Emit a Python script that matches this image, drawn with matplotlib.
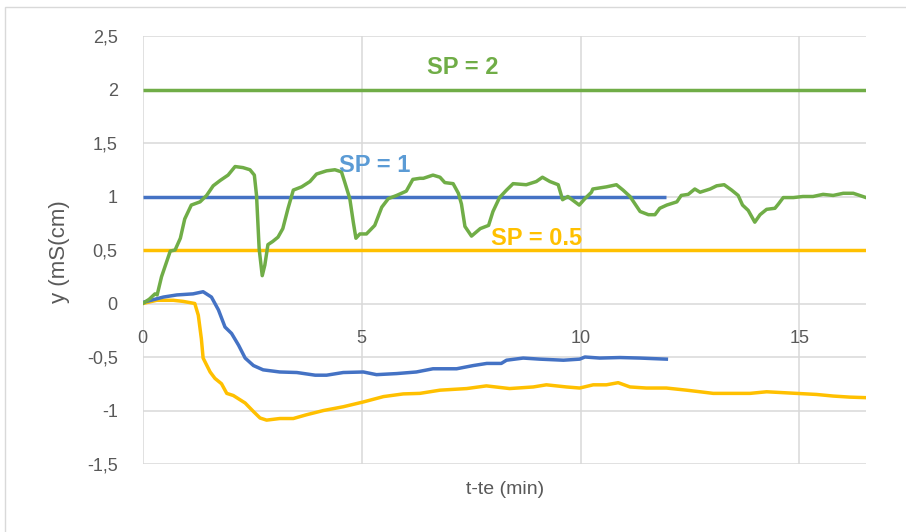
import matplotlib
matplotlib.use("Agg")
import matplotlib.pyplot as plt
from matplotlib.patches import Rectangle

# ---- data ----
green_x = [0.00, 0.15, 0.28, 0.33, 0.43, 0.63, 0.74, 0.86, 0.96, 1.11, 1.31, 1.46, 1.61, 1.77, 1.95,
           2.11, 2.29, 2.45, 2.55, 2.60, 2.66, 2.73, 2.79, 2.86, 2.97, 3.09, 3.20, 3.32, 3.44, 3.63,
           3.82, 3.97, 4.20, 4.39, 4.54, 4.61, 4.73, 4.81, 4.87, 4.96, 5.11, 5.30, 5.46, 5.61, 5.80,
           6.02, 6.17, 6.33, 6.41, 6.63, 6.79, 6.90, 7.09, 7.21, 7.28, 7.36, 7.51, 7.71, 7.90, 8.00,
           8.15, 8.31, 8.46, 8.76, 8.99, 9.13, 9.30, 9.49, 9.59, 9.71, 9.97, 10.10, 10.25, 10.28,
           10.59, 10.82, 10.97, 11.13, 11.36, 11.55, 11.70, 11.81, 11.97, 12.20, 12.30, 12.46, 12.61,
           12.73, 12.96, 13.11, 13.28, 13.45, 13.60, 13.70, 13.83, 13.98, 14.10, 14.25, 14.44, 14.52,
           14.63, 14.86, 15.08, 15.31, 15.54, 15.77, 16.00, 16.23, 16.52]
green_y = [0.00, 0.04, 0.09, 0.08, 0.25, 0.49, 0.50, 0.61, 0.79, 0.92, 0.95, 1.01, 1.10, 1.15, 1.20,
           1.28, 1.27, 1.25, 1.20, 1.01, 0.51, 0.26, 0.36, 0.55, 0.58, 0.62, 0.70, 0.89, 1.06, 1.09,
           1.14, 1.21, 1.24, 1.25, 1.23, 1.14, 0.98, 0.76, 0.61, 0.65, 0.65, 0.73, 0.90, 0.98, 1.01,
           1.05, 1.16, 1.17, 1.17, 1.20, 1.18, 1.13, 1.12, 1.03, 0.93, 0.72, 0.63, 0.70, 0.73, 0.86,
           0.99, 1.06, 1.12, 1.11, 1.14, 1.18, 1.14, 1.11, 0.97, 1.00, 0.92, 0.98, 1.04, 1.07,
           1.09, 1.11, 1.06, 1.00, 0.86, 0.83, 0.83, 0.89, 0.92, 0.95, 1.01, 1.02, 1.07,
           1.04, 1.07, 1.10, 1.11, 1.06, 1.01, 0.92, 0.87, 0.76, 0.83, 0.88, 0.89, 0.93,
           0.99, 0.99, 1.00, 1.00, 1.02, 1.01, 1.03, 1.03, 0.99]

blue_x = [0.00, 0.47, 0.78, 1.15, 1.38, 1.57, 1.73, 1.88, 2.03, 2.19, 2.34, 2.53, 2.75, 3.13, 3.52,
          3.94, 4.20, 4.58, 5.04, 5.34, 5.80, 6.25, 6.63, 7.17, 7.55, 7.86, 8.19, 8.31, 8.69, 9.07,
          9.61, 9.98, 10.10, 10.44, 10.90, 11.36, 11.65, 11.96]
blue_y = [0.01, 0.06, 0.08, 0.09, 0.11, 0.06, -0.06, -0.22, -0.28, -0.39, -0.51, -0.58, -0.62, -0.64, -0.645,
          -0.67, -0.67, -0.645, -0.64, -0.665, -0.655, -0.64, -0.61, -0.61, -0.58, -0.56, -0.56, -0.53, -0.51, -0.52,
          -0.53, -0.52, -0.50, -0.51, -0.505, -0.51, -0.515, -0.52]

yellow_x = [0.00, 0.32, 0.70, 0.92, 1.19, 1.27, 1.34, 1.38, 1.54, 1.65, 1.80, 1.92, 2.07, 2.34, 2.53,
            2.68, 2.83, 3.13, 3.44, 3.74, 4.13, 4.58, 5.04, 5.50, 5.95, 6.33, 6.79, 7.40, 7.85, 8.38,
            8.92, 9.22, 9.68, 9.98, 10.29, 10.59, 10.86, 11.13, 11.50, 11.96, 12.42, 12.73, 13.03,
            13.49, 13.87, 14.25, 14.93, 15.39, 15.77, 16.15, 16.52]
yellow_y = [0.00, 0.03, 0.03, 0.02, 0.00, -0.11, -0.33, -0.51, -0.64, -0.70, -0.75, -0.84, -0.86, -0.93, -1.01,
            -1.07, -1.09, -1.075, -1.075, -1.04, -1.00, -0.965, -0.92, -0.87, -0.845, -0.84, -0.81, -0.795, -0.77, -0.795,
            -0.78, -0.76, -0.78, -0.79, -0.76, -0.76, -0.74, -0.78, -0.79, -0.79, -0.81, -0.825, -0.84,
            -0.84, -0.84, -0.825, -0.84, -0.85, -0.865, -0.875, -0.88]

sp2_x, sp2_y = [0.0, 16.52], [2.0, 2.0]
sp1_x, sp1_y = [0.0, 11.96], [1.0, 1.0]
sp05_x, sp05_y = [0.0, 16.52], [0.5, 0.5]

x_ticks = [0, 5, 10, 15]
x_tick_labels = ["0", "5", "10", "15"]
y_ticks = [-1.5, -1.0, -0.5, 0.0, 0.5, 1.0, 1.5, 2.0, 2.5]
y_tick_labels = ["-1,5", "-1", "-0,5", "0", "0,5", "1", "1,5", "2", "2,5"]

GREEN = "#70AD47"
BLUE = "#4472C4"
LBLUE = "#5B9BD5"
YELLOW = "#FFC000"
GRID = "#D9D9D9"
TXT = "#595959"
NARROW = ["Liberation Sans Narrow", "Liberation Sans", "DejaVu Sans"]

W, H = 906, 532
fig = plt.figure(figsize=(W / 100, H / 100), dpi=100)
fig.patch.set_facecolor("white")

# outer frame
fig.patches.append(Rectangle((5 / W, -0.2), 2.0, 1.2 - 6.5 / H, transform=fig.transFigure,
                             fill=False, edgecolor=GRID, linewidth=1.0, zorder=0))

left, right, top, bottom = 142.7, 866, 36, 464
ax = fig.add_axes([left / W, 1 - bottom / H, (right - left) / W, (bottom - top) / H])

ax.set_xlim(0, 16.52)
ax.set_ylim(-1.5, 2.5)

for s in ax.spines.values():
    s.set_visible(False)
ax.spines["bottom"].set_position(("data", 0))

ax.set_xticks(x_ticks)
ax.set_xticklabels(x_tick_labels)
ax.set_yticks(y_ticks)
ax.set_yticklabels(y_tick_labels)
ax.tick_params(axis="x", length=0, pad=19, labelsize=13, labelcolor=TXT)
ax.tick_params(axis="y", length=0, pad=18, labelsize=13, labelcolor=TXT)
for lab in ax.get_xticklabels() + ax.get_yticklabels():
    lab.set_family(NARROW)

ax.grid(True, color=GRID, linewidth=1.1, zorder=0)
ax.set_axisbelow(True)

lw = 2.5
ax.plot(sp2_x, sp2_y, color=GREEN, linewidth=lw, solid_capstyle="butt", zorder=2)
ax.plot(sp05_x, sp05_y, color=YELLOW, linewidth=lw, solid_capstyle="butt", zorder=2)
ax.plot(sp1_x, sp1_y, color=BLUE, linewidth=lw, solid_capstyle="butt", zorder=2)
ax.plot(yellow_x, yellow_y, color=YELLOW, linewidth=lw, zorder=3)
ax.plot(blue_x, blue_y, color=BLUE, linewidth=lw, zorder=3)
ax.plot(green_x, green_y, color=GREEN, linewidth=lw, zorder=4)

ax.text(7.31, 2.21, "SP = 2", color=GREEN, fontsize=17, fontweight="bold",
        ha="center", va="center", family=NARROW, zorder=5)
ax.text(5.30, 1.29, "SP = 1", color=LBLUE, fontsize=17, fontweight="bold",
        ha="center", va="center", family=NARROW, zorder=5)
ax.text(9.0, 0.61, "SP = 0.5", color=YELLOW, fontsize=17, fontweight="bold",
        ha="center", va="center", family=NARROW, zorder=5)

fig.text(505 / W, 1 - 490 / H, "t-te (min)", color=TXT, fontsize=14,
         ha="center", va="center", family=NARROW)
fig.text(60 / W, 1 - 252 / H, "y (mS(cm)", color=TXT, fontsize=16, rotation=90,
         ha="center", va="center", family=["Liberation Sans", "DejaVu Sans"])

fig.savefig("out.png", dpi=100, facecolor="white")
